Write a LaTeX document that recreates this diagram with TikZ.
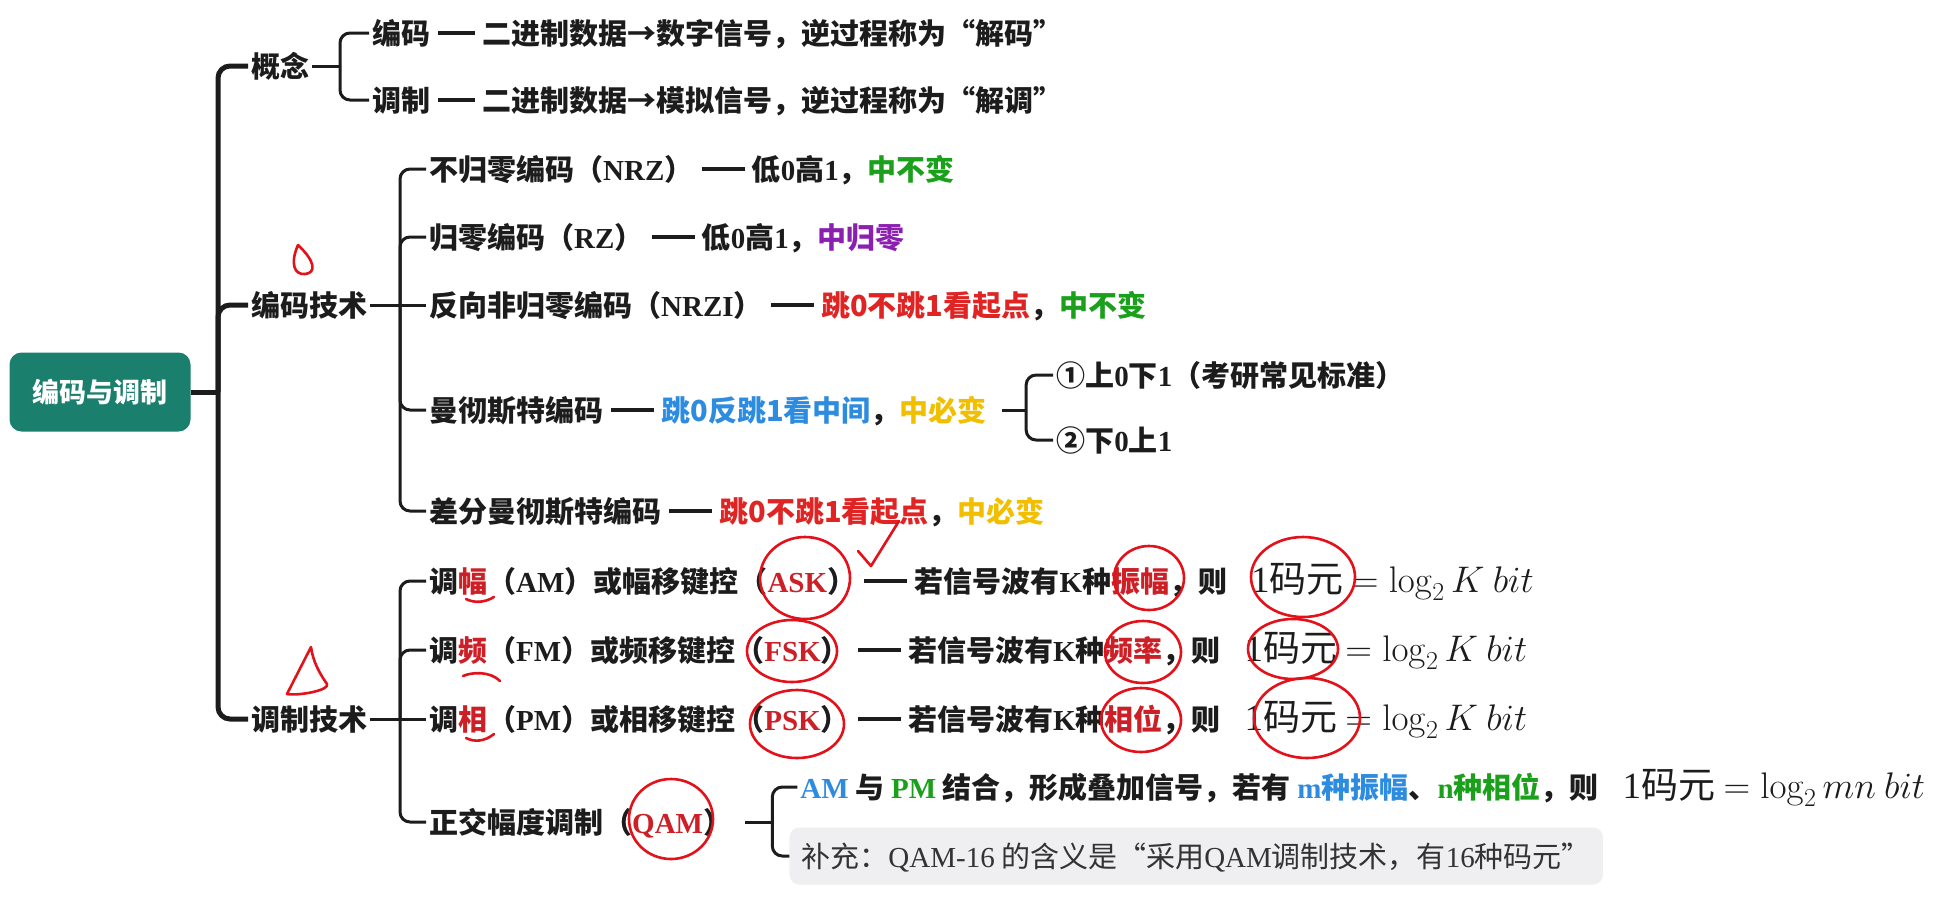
\RequirePackage{fix-cm}
\documentclass[tikz,border=0pt]{standalone}
\usepackage[no-math]{fontspec}
\setmainfont{Noto Sans CJK SC}
\newfontfamily\latn{Liberation Serif}
\usepackage{xcolor}
\usetikzlibrary{positioning, calc}
\definecolor{RootTeal}{HTML}{1B7F6E}
\definecolor{InkBlack}{HTML}{1C1C1C}
\definecolor{NoteText}{HTML}{333333}
\definecolor{NoteFill}{HTML}{EFEFF1}
\definecolor{KeyGreen}{HTML}{1BA01B}
\definecolor{KeyPurple}{HTML}{8B1FB0}
\definecolor{KeyRed}{HTML}{E02424}
\definecolor{KeyBlue}{HTML}{2E8CE0}
\definecolor{KeyYellow}{HTML}{F2BE00}
\definecolor{MarkRed}{HTML}{CC1F26}
\definecolor{PenRed}{HTML}{E3121A}
\newcommand{\mainsz}{\fontsize{29pt}{34pt}\selectfont}
\newcommand{\onebit}[1]{\hspace{24pt}{\mdseries\fontsize{37pt}{40pt}\selectfont
  {\latn 1}码元 $=\log_2 #1\ bit$}}

\begin{document}
\begin{tikzpicture}[x=1pt, y=-1pt,
    lbl/.style={anchor=west, inner sep=3pt, font=\mainsz\bfseries,
      text=InkBlack, text height=25.5pt, text depth=3.5pt},
    rootbox/.style={rectangle, rounded corners=12pt, fill=RootTeal,
      text=white, minimum width=181pt, minimum height=79pt,
      font=\fontsize{27pt}{32pt}\selectfont\bfseries},
    notebox/.style={lbl, font=\mainsz, text=NoteText, fill=NoteFill,
      rounded corners=10pt, inner xsep=12pt, minimum height=57pt},
    trunk/.style={line width=5pt, InkBlack, rounded corners=12pt},
    brk/.style={line width=3pt, InkBlack, rounded corners=10pt},
    dashln/.style={line width=4pt, InkBlack, shorten <=5pt, shorten >=4pt},
    pen/.style={PenRed, line width=2.6pt, line cap=round, line join=round}
  ]
  \path[use as bounding box, fill=white] (0,0) rectangle (1948,898);

  % root and first level
  \node[rootbox] (root) at (100,392) {编码与调制};
  \coordinate (trk) at (218,392);
  \node[lbl] (gn) at (248,66)  {概念};
  \node[lbl] (bj) at (248,305) {编码技术};
  \node[lbl] (tz) at (248,719) {调制技术};
  \draw[trunk] (root.east) -- (trk);
  \foreach \n in {gn,bj,tz}
    \draw[trunk] (trk) |- (\n.west);

  % 概念
  \coordinate (gnb) at (340,66);
  \node[lbl] (c1) at (369,33) {编码};
  \node[lbl, right=46pt of c1] (c1t) {二进制数据→数字信号，逆过程称为“解码”};
  \node[lbl] (c2) at (369,100) {调制};
  \node[lbl, right=46pt of c2] (c2t) {二进制数据→模拟信号，逆过程称为“解调”};
  \draw[brk] (gn.east) -- (gnb);
  \foreach \n in {c1,c2}
    \draw[brk] (gnb) |- (\n.west);
  \draw[dashln] (c1) -- (c1t);
  \draw[dashln] (c2) -- (c2t);

  % 编码技术
  \coordinate (bjb) at (400,305);
  \node[lbl] (nrz) at (426,169) {不归零编码（{\latn NRZ}）};
  \node[lbl, right=52pt of nrz] (nrzt) {低{\latn 0}高{\latn 1}，{\color{KeyGreen}中不变}};
  \node[lbl] (rz) at (426,237) {归零编码（{\latn RZ}）};
  \node[lbl, right=52pt of rz] (rzt) {低{\latn 0}高{\latn 1}，{\color{KeyPurple}中归零}};
  \node[lbl] (nrzi) at (426,305) {反向非归零编码（{\latn NRZI}）};
  \node[lbl, right=52pt of nrzi] (nrzit) {{\color{KeyRed}跳0不跳1看起点}，{\color{KeyGreen}中不变}};
  \node[lbl] (mc) at (426,410) {曼彻斯特编码};
  \node[lbl, right=52pt of mc] (mct) {{\color{KeyBlue}跳0反跳1看中间}，{\color{KeyYellow}中必变}};
  \node[lbl] (dm) at (426,511) {差分曼彻斯特编码};
  \node[lbl, right=52pt of dm] (dmt) {{\color{KeyRed}跳0不跳1看起点}，{\color{KeyYellow}中必变}};
  \draw[brk] (bj.east) -- (nrzi.west);
  \foreach \n in {nrz,rz,mc,dm}
    \draw[brk] (bjb) |- (\n.west);
  \foreach \n in {nrz,rz,nrzi,mc,dm}
    \draw[dashln] (\n) -- (\n t);

  % 曼彻斯特 two conventions
  \draw[brk] ([xshift=12pt]mct.east) -- ++(24,0) coordinate (mcb);
  \node[lbl] (mc1) at ($(mcb)+(27,-35)$) {①上{\latn 0}下{\latn 1}（考研常见标准）};
  \node[lbl] (mc2) at ($(mcb)+(27,30)$) {②下{\latn 0}上{\latn 1}};
  \foreach \n in {mc1,mc2}
    \draw[brk] (mcb) |- (\n.west);

  % 调制技术
  \coordinate (tzb) at (400,719);
  \node[lbl] (am) at (426,581) {调{\color{MarkRed}幅}（{\latn AM}）或幅移键控（{\latn\color{MarkRed}ASK}）};
  \node[lbl, right=52pt of am] (amt) {若信号波有{\latn K}种{\color{MarkRed}振幅}，则\onebit{K}};
  \node[lbl] (fm) at (426,650) {调{\color{MarkRed}频}（{\latn FM}）或频移键控（{\latn\color{MarkRed}FSK}）};
  \node[lbl, right=52pt of fm] (fmt) {若信号波有{\latn K}种{\color{MarkRed}频率}，则\onebit{K}};
  \node[lbl] (pm) at (426,719) {调{\color{MarkRed}相}（{\latn PM}）或相移键控（{\latn\color{MarkRed}PSK}）};
  \node[lbl, right=52pt of pm] (pmt) {若信号波有{\latn K}种{\color{MarkRed}相位}，则\onebit{K}};
  \node[lbl] (qam) at (426,822) {正交幅度调制（{\latn\color{MarkRed}QAM}）};
  \draw[brk] (tz.east) -- (pm.west);
  \foreach \n in {am,fm,qam}
    \draw[brk] (tzb) |- (\n.west);
  \foreach \n in {am,fm,pm}
    \draw[dashln] (\n) -- (\n t);

  % QAM
  \draw[brk] ([xshift=10pt]qam.east) -- ++(27,0) coordinate (qb);
  \node[lbl] (q1) at ($(qb)+(25,-35)$) {{\latn\color{KeyBlue}AM} 与 {\latn\color{KeyGreen}PM} 结合，形成叠加信号，若有 {\color{KeyBlue}{\latn m}种振幅}、{\color{KeyGreen}{\latn n}种相位}，则\onebit{mn}};
  \node[notebox] (q2) at ($(qb)+(17,34)$) {补充：{\latn QAM-16} 的含义是“采用{\latn QAM}调制技术，有{\latn 16}种码元”};
  \foreach \n in {q1,q2}
    \draw[brk] (qb) |- (\n.west);

  % hand marks
  \draw[pen] (298,245) .. controls (290,263) and (294,275) .. (305,274)
    .. controls (316,273) and (316,262) .. (298,245);
  \draw[pen] (311,647) -- (287,694) .. controls (300,696) and (330,690) .. (327,684)
    .. controls (320,674) and (313,662) .. (311,647);
  \draw[pen] (858,551) -- (871,566) -- (899,521);
  \draw[pen] (466,599) .. controls (474,603) and (484,603) .. (494,597);
  \draw[pen] (463,676) .. controls (472,672) and (490,671) .. (500,681);
  \draw[pen] (466,738) .. controls (474,742) and (484,742) .. (494,734);
  \draw[pen] (805,578) ellipse [x radius=45, y radius=41];
  \draw[pen] (792,651) ellipse [x radius=45, y radius=31];
  \draw[pen] (797,724) ellipse [x radius=47, y radius=34];
  \draw[pen] (671,819) ellipse [x radius=42, y radius=40];
  \draw[pen] (1149,578) ellipse [x radius=35, y radius=32];
  \draw[pen] (1143,652) ellipse [x radius=38, y radius=31];
  \draw[pen] (1141,720) ellipse [x radius=40, y radius=32];
  \draw[pen] (1303,577) ellipse [x radius=52, y radius=40];
  \draw[pen] (1293,649) ellipse [x radius=45, y radius=30];
  \draw[pen] (1307,718) ellipse [x radius=53, y radius=40];
\end{tikzpicture}
\end{document}
